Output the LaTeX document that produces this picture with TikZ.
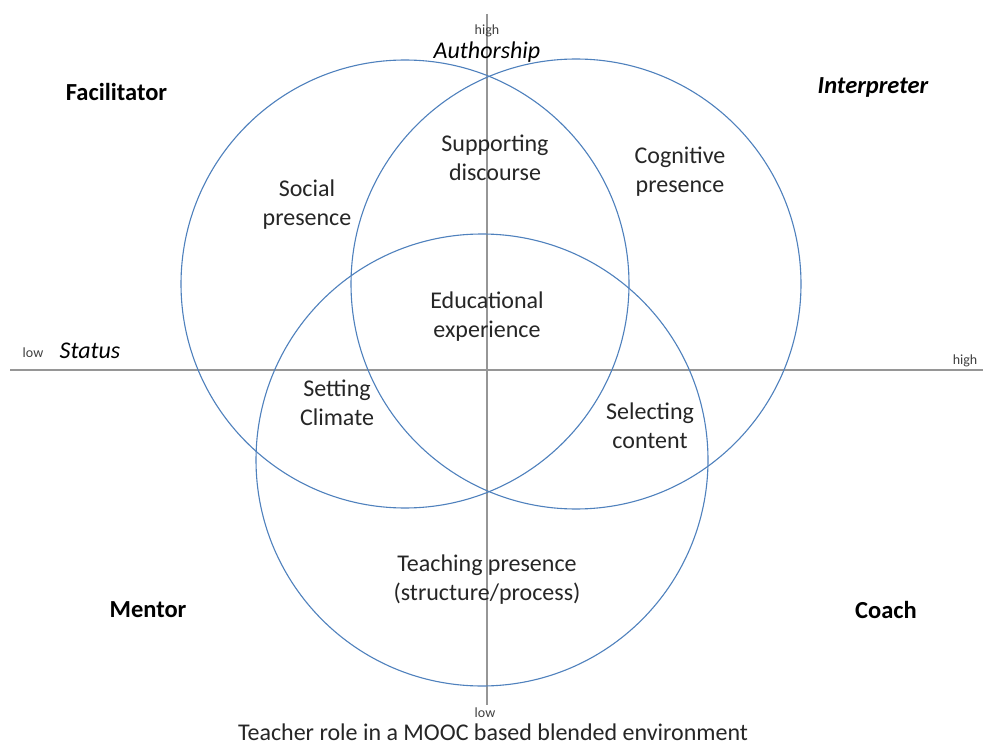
\documentclass[tikz,border=0pt]{standalone}
\usepackage{fontspec}
\setmainfont{Carlito}
\definecolor{ringblue}{RGB}{79,129,189}
\definecolor{axisgray}{RGB}{150,150,150}
\begin{document}
\begin{tikzpicture}[x=1pt,y=-1pt,
  ring/.style={circle,draw=ringblue,line width=1.1pt,inner sep=0pt,minimum size=#1},
  axisline/.style={draw=axisgray,line width=2.8pt},
  body/.style={align=center,inner sep=0pt,font=\fontsize{24}{29}\selectfont,text=black!85},
  role/.style={inner sep=0pt,font=\fontsize{24.5}{30}\selectfont\bfseries},
  small/.style={inner sep=0pt,font=\fontsize{14}{16}\selectfont,text=black!75},
  axlabel/.style={inner sep=0pt,font=\fontsize{24}{28}\selectfont\itshape}]
\useasboundingbox (0,0) rectangle (983,746);
\fill[white] (0,0) rectangle (983,746);
% axes
\coordinate (vtop) at (487,14);
\coordinate (vbot) at (487,705);
\coordinate (hleft) at (10,370);
\coordinate (hright) at (983,370);
\draw[axisline] (hleft) -- (hright);
\draw[axisline] (vtop) -- (vbot);
% circles
\node[ring=448pt] (left) at (405,284) {};
\node[ring=450pt] (right) at (576,284) {};
\node[ring=452pt] (bottom) at (482,460) {};
% axis labels
\node[small] (hightop) at (487,31) {high};
\node[axlabel] (author) at (487,52) {Authorship};
\node[small] (lowleft) at (33,353) {low};
\node[axlabel] (status) at (90,351) {Status};
\node[small] (highright) at (965,361) {high};
\node[small] (lowbot) at (485,713) {low};
% roles
\node[role] (facil) at (116.5,91.5) {Facilitator};
\node[role,font=\fontsize{24.5}{30}\selectfont\bfseries\itshape] (interp) at (873,87) {Interpreter};
\node[role] (mentor) at (148,610) {Mentor};
\node[role] (coach) at (886,610) {Coach};
% regions
\node[body] (social) at (307,205) {Social\\presence};
\node[body] (support) at (495,158) {Supporting\\discourse};
\node[body] (cogn) at (680,172) {Cognitive\\presence};
\node[body] (edu) at (487,317) {Educational\\experience};
\node[body] (climate) at (337,403) {Setting\\Climate};
\node[body] (select) at (650,426) {Selecting\\content};
\node[body] (teach) at (487,580) {Teaching presence\\(structure/process)};
% caption
\node[body,anchor=base] (caption) at (493,740) {Teacher role in a MOOC based blended environment};
\end{tikzpicture}
\end{document}
